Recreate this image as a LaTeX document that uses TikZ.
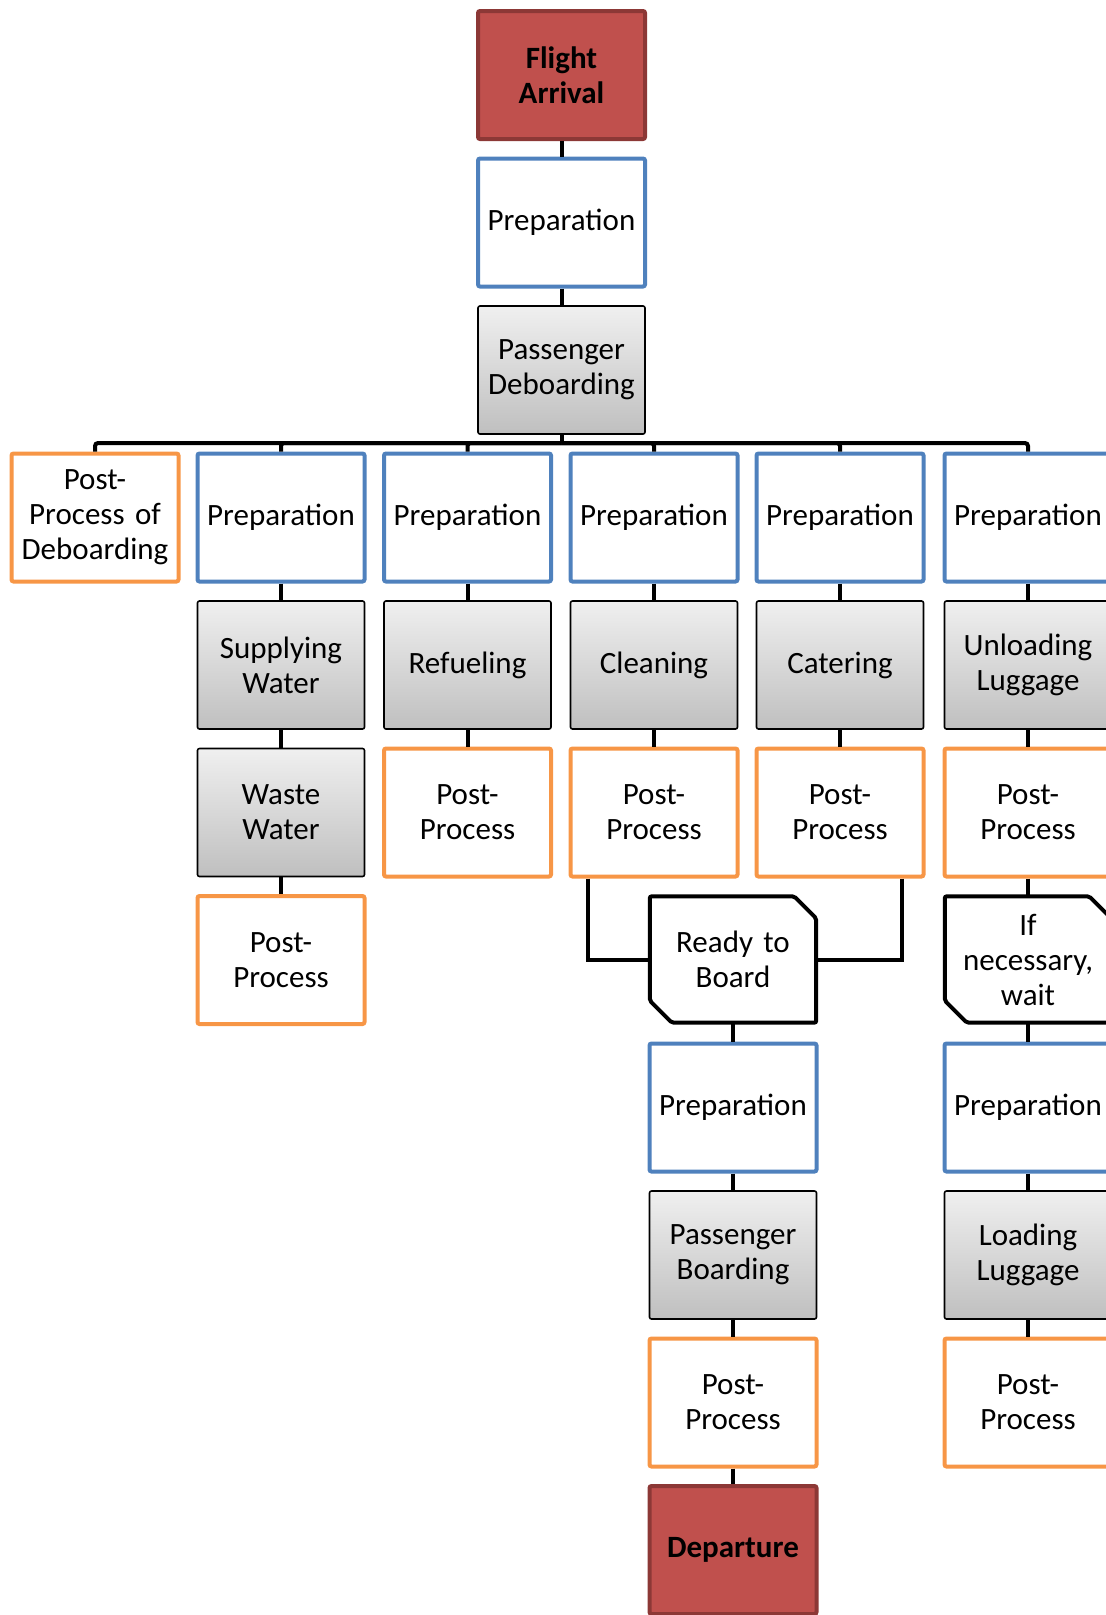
\documentclass[tikz,border=0pt]{standalone}
\usepackage{fontspec}
\setmainfont{Carlito}
\usetikzlibrary{calc}
\definecolor{blueline}{HTML}{4F81BD}
\definecolor{orangeline}{HTML}{F79646}
\definecolor{redfill}{HTML}{C0504D}
\definecolor{redline}{HTML}{8C3836}

\tikzset{
  box/.style={rectangle, rounded corners=2pt, minimum width=167pt, minimum height=128pt,
    inner sep=0pt, align=center, text width=165pt, font=\fontsize{31}{35}\selectfont},
  prepbox/.style={box, draw=blueline, line width=4pt, fill=white},
  postbox/.style={box, draw=orangeline, line width=4pt, fill=white},
  workbox/.style={box, draw=black, line width=1.6pt, top color=black!6, bottom color=black!25},
  eventbox/.style={box, draw=redline, line width=4pt, fill=redfill,
    font=\fontsize{31}{35}\selectfont\bfseries},
  gatebox/.style={box, minimum width=166pt, minimum height=126pt},
  gateline/.style={line width=4pt, draw=black, rounded corners=2pt},
  link/.style={line width=4pt, draw=black},
}

\begin{document}
\begin{tikzpicture}[x=1pt, y=-1pt]
  \useasboundingbox (0,0) rectangle (1106,1615);
  \clip (0,0) rectangle (1106,1615);

  % arrival and deboarding
  \node[eventbox] (arr)   at (561.5,75)    {Flight\\Arrival};
  \node[prepbox]  (prep0) at (561.5,222.5) {Preparation};
  \node[workbox]  (deb)   at (561.5,370)   {Passenger\\Deboarding};

  % parallel ground services
  \node[postbox] (ppdeb) at (95,517.5)    {Post-\\Process of\\Deboarding};
  \node[prepbox] (prepW) at (281,517.5)   {Preparation};
  \node[prepbox] (prepF) at (467.5,517.5) {Preparation};
  \node[prepbox] (prepC) at (654,517.5)   {Preparation};
  \node[prepbox] (prepK) at (840,517.5)   {Preparation};
  \node[prepbox] (prepL) at (1028,517.5)  {Preparation};

  \node[workbox] (water)  at (281,665)   {Supplying\\Water};
  \node[workbox] (fuel)   at (467.5,665) {Refueling};
  \node[workbox] (clean)  at (654,665)   {Cleaning};
  \node[workbox] (cater)  at (840,665)   {Catering};
  \node[workbox] (unload) at (1028,665)  {Unloading\\Luggage};

  \node[workbox] (waste) at (281,812.5)   {Waste\\Water};
  \node[postbox] (ppF)   at (467.5,812.5) {Post-\\Process};
  \node[postbox] (ppC)   at (654,812.5)   {Post-\\Process};
  \node[postbox] (ppK)   at (840,812.5)   {Post-\\Process};
  \node[postbox] (ppL)   at (1028,812.5)  {Post-\\Process};

  \node[postbox] (ppW)   at (281,960)    {Post-\\Process};
  \node[gatebox] (ready) at (733,959.5)  {Ready to\\Board};
  \node[gatebox] (wait)  at (1028,959.5) {If\\necessary,\\wait};

  % boarding and luggage loading
  \node[prepbox] (prepB)  at (733,1107.5)  {Preparation};
  \node[prepbox] (prepLL) at (1028,1107.5) {Preparation};
  \node[workbox] (board)  at (733,1255)    {Passenger\\Boarding};
  \node[workbox] (load)   at (1028,1255)   {Loading\\Luggage};
  \node[postbox] (ppB)    at (733,1402.5)  {Post-\\Process};
  \node[postbox] (ppLL)   at (1028,1402.5) {Post-\\Process};
  \node[eventbox] (dep)   at (733,1550)    {Departure};

  % chamfered outlines of the two wait states
  \foreach \g in {ready,wait}
    \draw[gateline] (\g.north west) -- ([xshift=-22pt]\g.north east)
      -- ([yshift=-22pt]\g.north east) -- (\g.south east)
      -- ([xshift=22pt]\g.south west) -- ([yshift=22pt]\g.south west) -- cycle;

  % distribution bus below deboarding
  \coordinate (hub) at (561.5,443);
  \draw[link] (deb.south) -- (hub);
  \foreach \n in {ppdeb,prepW,prepF,prepC,prepK,prepL}
    \draw[link, rounded corners=3pt] (\n.north) |- (hub);

  % vertical chains
  \foreach \a/\b in {arr/prep0, prep0/deb,
      prepW/water, water/waste, waste/ppW,
      prepF/fuel, fuel/ppF,
      prepC/clean, clean/ppC,
      prepK/cater, cater/ppK,
      prepL/unload, unload/ppL, ppL/wait, wait/prepLL, prepLL/load, load/ppLL,
      ready/prepB, prepB/board, board/ppB, ppB/dep}
    \draw[link] (\a.south) -- (\b.north);

  % cleaning and catering both feed the boarding gate
  \draw[link] ([xshift=-66pt]ppC.south) |- (ready.west);
  \draw[link] ([xshift=62pt]ppK.south) |- (ready.east);
\end{tikzpicture}
\end{document}
